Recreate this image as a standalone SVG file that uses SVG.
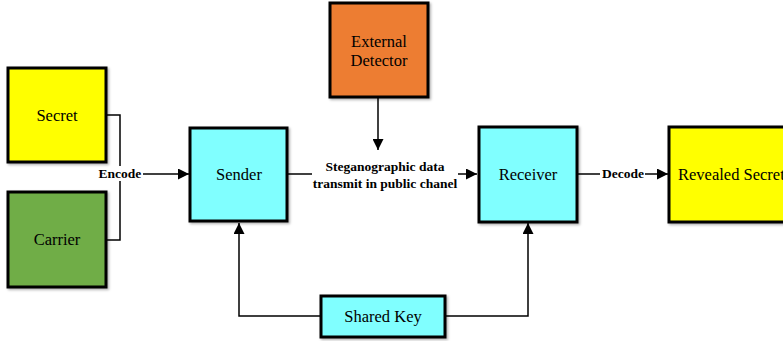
<svg xmlns="http://www.w3.org/2000/svg" width="783" height="341" viewBox="0 0 783 341">
<style>
.box{stroke:#000;stroke-width:3;filter:url(#sh)}
.t{font-family:"Liberation Serif","Times New Roman",serif;font-size:16.5px;fill:#000}
.lb{font-family:"Liberation Serif","Times New Roman",serif;font-size:13.5px;font-weight:bold;fill:#000}
.c{fill:none;stroke:#000;stroke-width:1.5}
</style>
<defs>
<marker id="a" viewBox="0 0 10 10" refX="10" refY="5" markerWidth="11" markerHeight="11" markerUnits="userSpaceOnUse" orient="auto"><path d="M0,0 L10,5 L0,10 z" fill="#000"/></marker>
<filter id="sh" x="-10%" y="-10%" width="125%" height="125%"><feDropShadow dx="1.5" dy="1.5" stdDeviation="1" flood-color="#000" flood-opacity="0.3"/></filter>
</defs>
<g id="connectors">
<path class="c" d="M106,115 H120 V240 H106"/>
<path class="c" d="M142,174 H189" marker-end="url(#a)"/>
<path class="c" d="M287,174 H312"/>
<path class="c" d="M458,174 H477" marker-end="url(#a)"/>
<path class="c" d="M378,98 V150" marker-end="url(#a)"/>
<path class="c" d="M577,174 H600"/>
<path class="c" d="M645,174 H668" marker-end="url(#a)"/>
<path class="c" d="M321,316 H239 V223" marker-end="url(#a)"/>
<path class="c" d="M445,316 H528 V223" marker-end="url(#a)"/>
<rect x="97" y="166" width="46" height="15" fill="#fff"/>
<text class="lb" x="120" y="178" text-anchor="middle" font-family="Liberation Serif, serif">Encode</text>
<text class="lb" x="385" y="171" text-anchor="middle" font-family="Liberation Serif, serif">Steganographic data</text>
<text class="lb" x="385" y="188" text-anchor="middle" font-family="Liberation Serif, serif">transmit in public chanel</text>
<text class="lb" x="623" y="178" text-anchor="middle" font-family="Liberation Serif, serif">Decode</text>
</g>
<g id="secret"><rect class="box" x="8" y="68" width="98" height="94" fill="#ffff00"/><text class="t" x="57" y="121" text-anchor="middle" font-family="Liberation Serif, serif">Secret</text></g>
<g id="carrier"><rect class="box" x="8" y="192" width="98" height="95" fill="#70ad47"/><text class="t" x="57" y="245" text-anchor="middle" font-family="Liberation Serif, serif">Carrier</text></g>
<g id="sender"><rect class="box" x="190" y="128" width="97" height="93" fill="#80ffff"/><text class="t" x="239" y="180" text-anchor="middle" font-family="Liberation Serif, serif">Sender</text></g>
<g id="detector"><rect class="box" x="330" y="3" width="98" height="94" fill="#ed7d31"/><text class="t" x="379" y="47" text-anchor="middle" font-family="Liberation Serif, serif">External</text><text class="t" x="379" y="66" text-anchor="middle" font-family="Liberation Serif, serif">Detector</text></g>
<g id="receiver"><rect class="box" x="479" y="127" width="98" height="95" fill="#80ffff"/><text class="t" x="528" y="180" text-anchor="middle" font-family="Liberation Serif, serif">Receiver</text></g>
<g id="revealed"><rect class="box" x="669" y="127" width="130" height="95" fill="#ffff00" stroke-width="4"/><text class="t" x="678" y="180" text-anchor="start" font-family="Liberation Serif, serif">Revealed Secret</text></g>
<g id="sharedkey"><rect class="box" x="321" y="296" width="124" height="41" fill="#80ffff"/><text class="t" x="383" y="322" text-anchor="middle" font-family="Liberation Serif, serif">Shared Key</text></g>
</svg>
